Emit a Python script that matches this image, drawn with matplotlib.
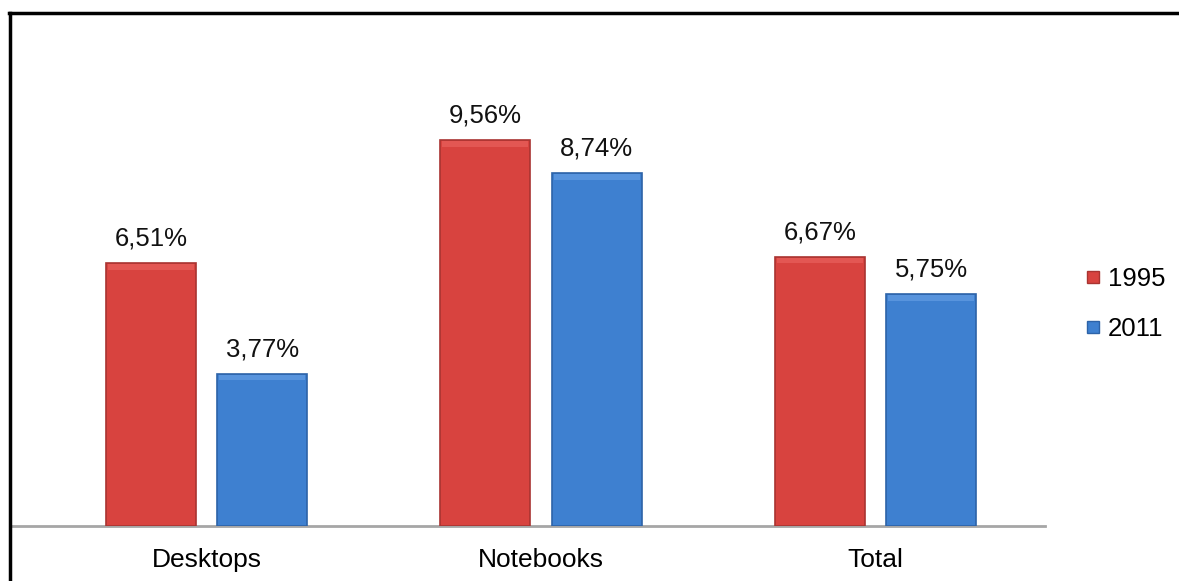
import matplotlib
matplotlib.use("Agg")
import matplotlib.pyplot as plt
from matplotlib.lines import Line2D
import numpy as np

categories = ["Desktops", "Notebooks", "Total"]
series_names = ["1995", "2011"]
values_1995 = [6.51, 9.56, 6.67]
values_2011 = [3.77, 8.74, 5.75]
label_1995 = ["6,51%", "9,56%", "6,67%"]
label_2011 = ["3,77%", "8,74%", "5,75%"]

plt.rcParams['font.family'] = ['Liberation Sans', 'DejaVu Sans']

W, H = 1179, 581
fig = plt.figure(figsize=(W/100, H/100), dpi=100)
ax = fig.add_axes([12/W, (H-526)/H, (1045-12)/W, (526-42)/H])

x = np.arange(len(categories))
bw = 0.269
off = 0.1665
red_face, red_edge = "#D8433F", "#A93431"
blue_face, blue_edge = "#3E80D0", "#2D63A8"

b1 = ax.bar(x - off, values_1995, bw, color=red_face, edgecolor=red_edge, linewidth=1.2, zorder=3)
b2 = ax.bar(x + off, values_2011, bw, color=blue_face, edgecolor=blue_edge, linewidth=1.2, zorder=3)

# subtle bevel highlight at top of bars
for bars, hl in ((b1, "#EC6662"), (b2, "#6AA3E6")):
    for r in bars:
        x0, w, h = r.get_x(), r.get_width(), r.get_height()
        ax.fill_between([x0 + 0.006, x0 + w - 0.006], h - 0.16, h - 0.02, color=hl, alpha=0.6, zorder=4, linewidth=0)

for bars, labs in ((b1, label_1995), (b2, label_2011)):
    for r, t in zip(bars, labs):
        ax.annotate(t, (r.get_x() + r.get_width()/2, r.get_height()),
                    xytext=(0, 9), textcoords="offset points",
                    ha="center", va="bottom", fontsize=18.5, color="#111111")

ax.set_xlim(-0.5815, 2.507)
ax.set_ylim(0, 12)
ax.set_xticks(x)
ax.set_xticklabels(categories, fontsize=19)
ax.tick_params(axis="x", length=0, pad=16)
ax.set_yticks([])
for s in ("top", "right", "left"):
    ax.spines[s].set_visible(False)
ax.spines["bottom"].set_color("#A6A6A6")
ax.spines["bottom"].set_linewidth(2)

handles = [Line2D([], [], marker="s", linestyle="none", markersize=8,
                  markerfacecolor=red_face, markeredgecolor=red_edge),
           Line2D([], [], marker="s", linestyle="none", markersize=8,
                  markerfacecolor=blue_face, markeredgecolor=blue_edge)]
fig.legend(handles, series_names, loc="center left", bbox_to_anchor=(1072/W, 1 - 304/H),
           frameon=False, fontsize=18.5, handlelength=0.6, handletextpad=0.3,
           labelspacing=1.0, borderpad=0)

# frame lines (top and left)
fig.add_artist(Line2D([10/W, 10/W], [0, 1 - 13/H], color="black", linewidth=2.5, transform=fig.transFigure))
fig.add_artist(Line2D([9/W, 1], [1 - 13/H, 1 - 13/H], color="black", linewidth=2.5, transform=fig.transFigure))

fig.savefig("out.png", dpi=100)
